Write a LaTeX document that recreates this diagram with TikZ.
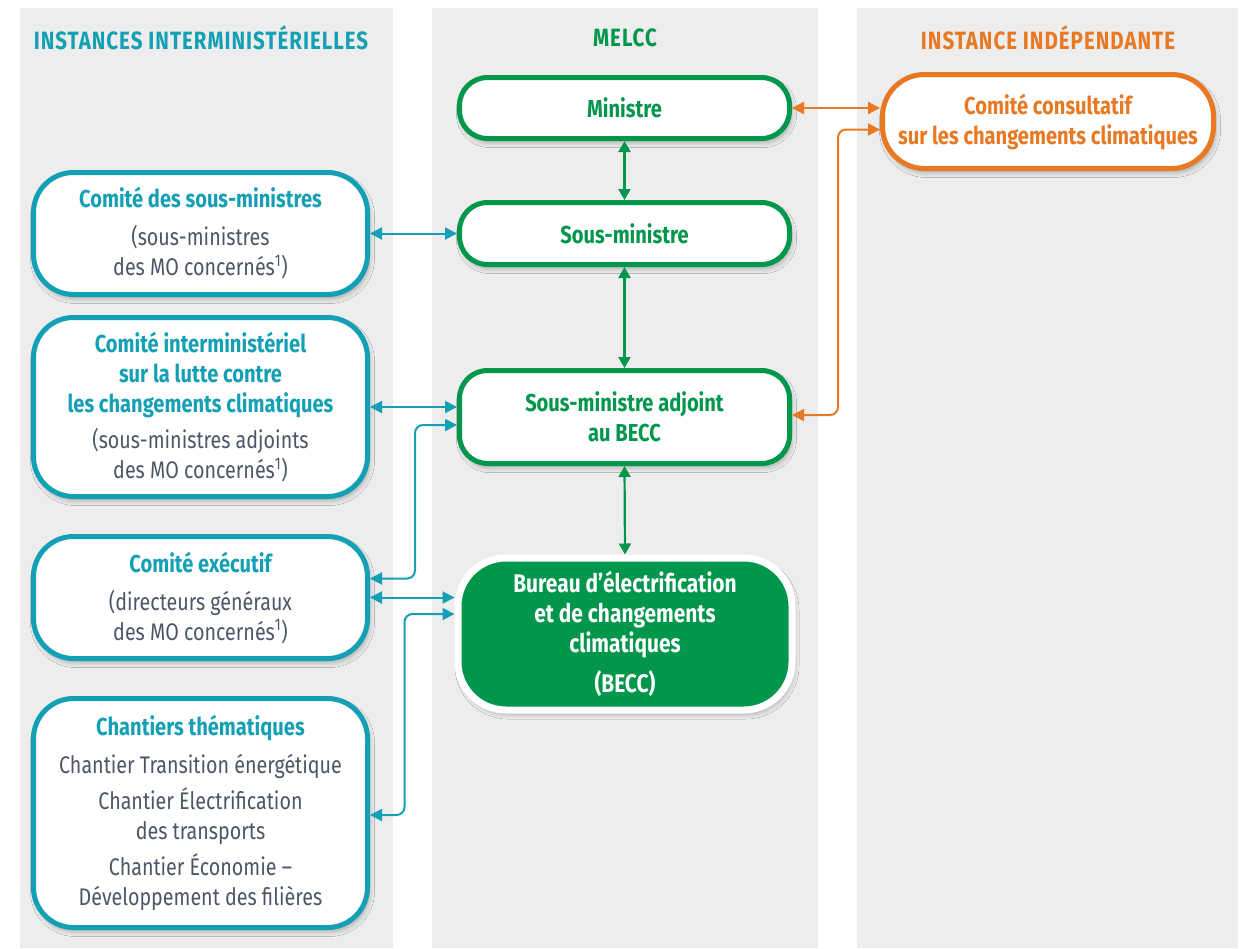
\documentclass[tikz,border=0pt]{standalone}
\usepackage{fontspec}
\setmainfont{Fira Sans}[FakeStretch=0.82]
\newfontfamily\hdrfont{Fira Sans}[FakeStretch=0.82, LetterSpace=4]
\usetikzlibrary{arrows.meta,shadows.blur}
\definecolor{cTeal}{RGB}{20,160,180}
\definecolor{cGreen}{RGB}{0,150,75}
\definecolor{cOrange}{RGB}{232,120,34}
\definecolor{cText}{RGB}{77,85,102}
\definecolor{cPanel}{RGB}{237,237,237}
\tikzset{
  shade box/.style={blur shadow={shadow blur steps=6, shadow xshift=2pt, shadow yshift=-4pt, shadow opacity=30, shadow blur radius=5pt}},
  basebox/.style={shade box, line width=5pt, fill=white, align=center, inner sep=0pt, font=\fontsize{24}{30}\selectfont},
  gbox/.style={basebox, draw=cGreen, text=cGreen, rounded corners=28pt, minimum width=330pt, font=\bfseries\fontsize{24.5}{30}\selectfont},
  tbox/.style={basebox, draw=cTeal, text=cText, rounded corners=40pt, minimum width=334pt},
  obox/.style={basebox, draw=cOrange, text=cOrange, rounded corners=42pt, minimum width=331pt, font=\bfseries\fontsize{24.5}{30}\selectfont},
  becbox/.style={shade box, draw=white, line width=7pt, fill=cGreen, text=white, rounded corners=48pt, minimum width=334pt, minimum height=152pt, align=center, font=\bfseries\fontsize{25.5}{30}\selectfont},
  header/.style={font=\hdrfont\bfseries\fontsize{25}{28}\selectfont, anchor=center},
  tarrow/.style={draw=cTeal, line width=2pt, {Triangle[length=12pt,width=12pt]}-{Triangle[length=12pt,width=12pt]}},
  garrow/.style={draw=cGreen, line width=2.2pt, {Triangle[length=11pt,width=12pt]}-{Triangle[length=11pt,width=12pt]}},
  oarrow/.style={draw=cOrange, line width=2pt, {Triangle[length=12pt,width=12pt]}-{Triangle[length=12pt,width=12pt]}},
}
\newcommand{\ttl}[1]{\textcolor{cTeal}{\bfseries\fontsize{24.5}{30}\selectfont #1}}
\begin{document}
\begin{tikzpicture}[x=1pt,y=-1pt]
\useasboundingbox (0,0) rectangle (1241,948);
\fill[white] (0,0) rectangle (1241,948);
% panels
\fill[cPanel] (20,8) rectangle (393,948);
\fill[cPanel] (432,8) rectangle (818,948);
\fill[cPanel] (857,8) rectangle (1238,948);
% headers
\node[header, text=cTeal] (h1) at (201,38) {INSTANCES INTERMINISTÉRIELLES};
\node[header, text=cGreen] (h2) at (625,38) {MELCC};
\node[header, text=cOrange] (h3) at (1048,38) {INSTANCE INDÉPENDANTE};
% middle column
\node[gbox, minimum height=61pt] (min) at (624.5,108) {Ministre};
\node[gbox, minimum height=62pt] (sm) at (624.5,233.5) {Sous-ministre};
\node[gbox, minimum height=93pt] (sma) at (624.5,417) {Sous-ministre adjoint\\au BECC};
\node[becbox] (becc) at (625,634) {Bureau d’électrification\\et de changements\\climatiques\\[10pt](BECC)};
% right column
\node[obox, minimum height=94pt] (cc) at (1048,121.5) {Comité consultatif\\sur les changements climatiques};
% left column
\node[tbox, minimum height=122pt] (cs) at (200.5,233.5) {\ttl{Comité des sous-ministres}\\[8pt](sous-ministres\\des MO concernés\textsuperscript{1})};
\node[tbox, minimum height=179pt] (ci) at (200.5,407) {\ttl{Comité interministériel}\\\ttl{sur la lutte contre}\\\ttl{les changements climatiques}\\[6pt](sous-ministres adjoints\\des MO concernés\textsuperscript{1})};
\node[tbox, minimum height=122pt] (ce) at (200.5,597.5) {\ttl{Comité exécutif}\\[8pt](directeurs généraux\\des MO concernés\textsuperscript{1})};
\node[tbox, minimum height=229pt] (ch) at (200.5,813) {\ttl{Chantiers thématiques}\\[8pt]Chantier Transition énergétique\\[6pt]Chantier Électrification\\des transports\\[6pt]Chantier Économie –\\Développement des filières};
% green vertical connectors
\draw[garrow] (min.south) -- (sm.north);
\draw[garrow] (sm.south) -- (sma.north);
\draw[garrow] (sma.south) -- (becc.north);
% orange connectors
\draw[oarrow] (min.east) -- (cc.west |- min.east);
\draw[oarrow, rounded corners=8pt] ([yshift=2pt]sma.east) -| ([xshift=-42pt,yshift=-8pt]cc.west) -- ([yshift=-8pt]cc.west);
% teal connectors
\draw[tarrow] (cs.east) -- (sm.west |- cs.east);
\draw[tarrow] (ci.east) -- (sma.west |- ci.east);
\draw[tarrow, rounded corners=8pt] ([yshift=19pt]ce.east) -| ([xshift=-42pt,yshift=-8pt]sma.west) -- ([yshift=-8pt]sma.west);
\draw[tarrow] (ce.east) -- (becc.west |- ce.east);
\draw[tarrow, rounded corners=8pt] ([yshift=-2pt]ch.east) -| ([xshift=-50pt,yshift=20pt]becc.west) -- ([yshift=20pt]becc.west);
\end{tikzpicture}
\end{document}
